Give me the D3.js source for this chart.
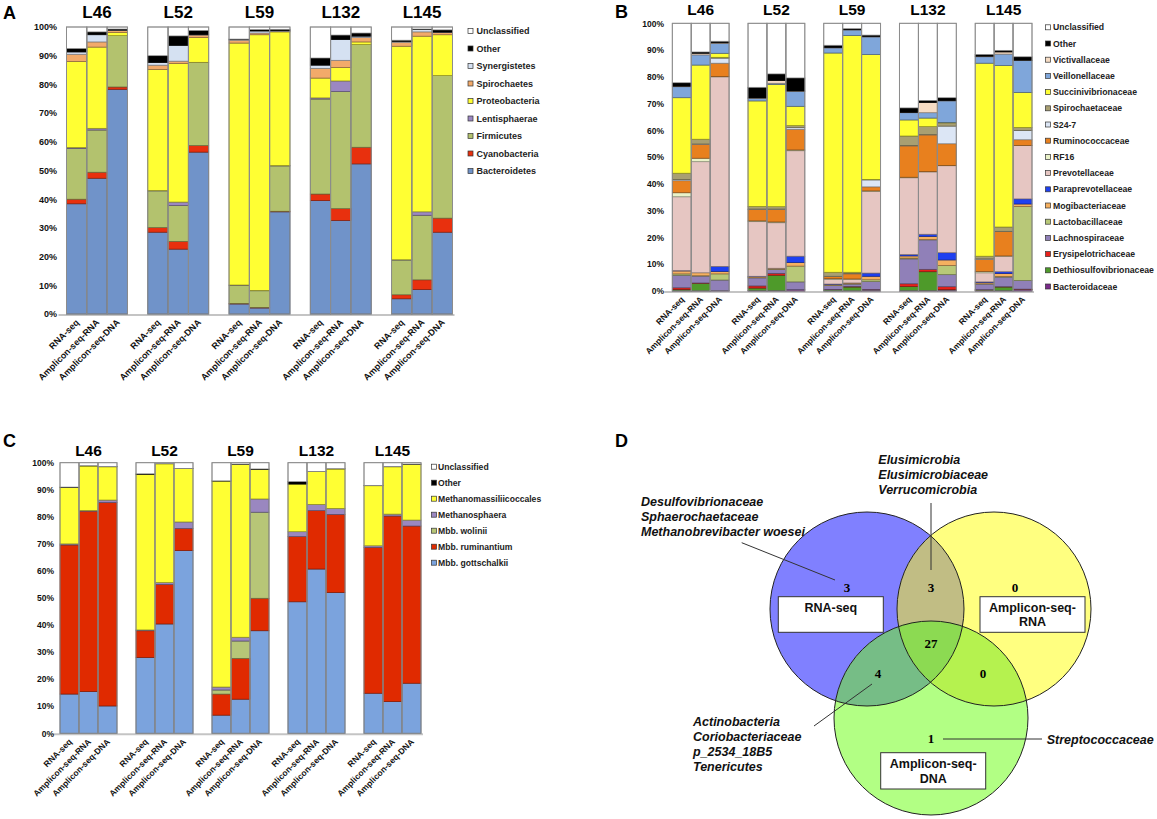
<!DOCTYPE html>
<html>
<head>
<meta charset="utf-8">
<title>Taxonomic composition by method</title>
<script src="https://cdnjs.cloudflare.com/ajax/libs/d3/7.8.5/d3.min.js"></script>
<style>
  body { margin: 0; background: #fff; }
  svg { display: block; font-family: Arial, "Liberation Sans", sans-serif; }
</style>
</head>
<body>
<div id="fig"></div>
<script>
const width = 1157, height = 819;

const libraries = ["L46", "L52", "L59", "L132", "L145"];
const methods = ["RNA-seq", "Amplicon-seq-RNA", "Amplicon-seq-DNA"];
const yTicks = [0, 10, 20, 30, 40, 50, 60, 70, 80, 90, 100];

// Panel A: phyla, bottom of the stack first
const phyla = ["Bacteroidetes", "Cyanobacteria", "Firmicutes", "Lentisphaerae", "Proteobacteria",
  "Spirochaetes", "Synergistetes", "Other", "Unclassified"];
const phylaColors = ["#7093c9", "#e8300e", "#b3c26e", "#9b87c2", "#ffff33", "#f2aa6a", "#d5e1f2", "#000000", "#ffffff"];
// one row per bar: L46 RNA, L46 Amp-RNA, L46 Amp-DNA, L52 ... (percent)
const phylaValues = [
  [38.4, 1.6, 17.7, 0.3, 30.0, 2.5, 0.8, 1.2, 7.5],
  [47.3, 2.1, 14.7, 0.6, 28.3, 1.8, 2.5, 1.0, 1.7],
  [78.3, 0.8, 17.9, 0.0, 1.1, 0.7, 0.1, 0.4, 0.7],
  [28.5, 1.6, 12.8, 0.1, 42.2, 1.5, 0.9, 2.4, 10.0],
  [22.6, 2.7, 12.5, 1.2, 48.3, 0.8, 5.5, 3.3, 3.1],
  [56.4, 2.3, 28.9, 0.1, 8.6, 0.9, 0.1, 1.5, 1.2],
  [3.5, 0.2, 6.3, 0.1, 84.3, 1.0, 0.3, 0.1, 4.2],
  [2.1, 0.2, 5.8, 0.1, 89.1, 0.6, 0.7, 0.5, 0.9],
  [35.6, 0.2, 15.8, 0.1, 46.6, 0.2, 0.2, 0.5, 0.8],
  [39.5, 2.3, 33.1, 0.4, 6.9, 3.4, 1.1, 2.5, 10.8],
  [32.6, 4.1, 40.8, 3.7, 4.7, 2.5, 7.2, 1.6, 2.8],
  [52.3, 5.8, 35.8, 0.0, 0.9, 1.5, 0.5, 1.1, 2.1],
  [5.3, 1.4, 12.1, 0.1, 74.4, 1.4, 0.3, 0.4, 4.6],
  [8.5, 3.4, 22.5, 1.2, 61.2, 1.5, 0.8, 0.2, 0.7],
  [28.5, 4.9, 49.7, 0.0, 14.2, 0.8, 0.1, 0.8, 1.0]
];

// Panel B: families
const families = ["Bacteroidaceae", "Dethiosulfovibrionaceae", "Erysipelotrichaceae", "Lachnospiraceae",
  "Lactobacillaceae", "Mogibacteriaceae", "Paraprevotellaceae", "Prevotellaceae", "RF16", "Ruminococcaceae",
  "S24-7", "Spirochaetaceae", "Succinivibrionaceae", "Veillonellaceae", "Victivallaceae", "Other", "Unclassified"];
const familyColors = ["#7a2a8a", "#4e9a2a", "#e8201a", "#9080b8", "#b8c878", "#f5b060", "#1e40f0", "#e6c6c2",
  "#eaf2c8", "#e8801e", "#dce6f5", "#a89f72", "#ffff33", "#7fa6da", "#f6dcc4", "#000000", "#ffffff"];
const familyValues = [
  [0.1, 0.5, 0.6, 4.7, 0.5, 1.1, 0.1, 27.6, 1.5, 4.5, 0.4, 2.4, 28.2, 4.1, 0.2, 1.3, 22.2],
  [0.1, 2.8, 0.1, 2.6, 0.1, 1.1, 0.0, 41.5, 1.3, 5.2, 0.1, 1.8, 27.7, 3.8, 0.6, 0.5, 10.7],
  [0.2, 0.0, 0.0, 3.9, 2.3, 0.9, 1.9, 70.8, 0.1, 5.0, 1.9, 0.3, 1.5, 3.7, 0.2, 0.6, 6.7],
  [0.2, 0.9, 0.8, 3.0, 0.1, 0.4, 0.1, 20.4, 0.3, 4.3, 0.1, 1.0, 39.4, 1.0, 0.1, 4.0, 23.9],
  [0.2, 5.7, 0.7, 1.5, 0.1, 0.3, 0.0, 17.0, 0.3, 4.7, 0.1, 0.9, 45.7, 0.4, 1.0, 2.5, 18.9],
  [0.5, 0.0, 0.0, 2.9, 5.9, 1.3, 2.4, 39.4, 0.3, 7.7, 0.6, 0.8, 7.2, 5.6, 0.1, 4.9, 20.4],
  [0.1, 0.4, 0.1, 1.5, 0.1, 0.3, 0.1, 1.8, 0.2, 0.8, 0.1, 1.5, 81.9, 1.9, 0.1, 0.9, 8.2],
  [0.1, 1.4, 0.2, 0.9, 0.1, 0.3, 0.0, 1.4, 0.1, 1.9, 0.1, 0.5, 88.4, 2.1, 0.1, 0.4, 2.0],
  [0.4, 0.1, 0.1, 2.9, 0.7, 1.3, 1.2, 30.5, 0.2, 1.5, 2.6, 0.2, 46.6, 6.6, 0.1, 0.6, 4.4],
  [0.2, 1.5, 1.0, 9.3, 0.3, 0.8, 0.5, 28.7, 0.2, 11.7, 0.1, 3.6, 6.0, 2.7, 0.1, 1.7, 31.6],
  [0.2, 7.0, 0.9, 11.0, 0.1, 1.2, 0.8, 23.3, 0.1, 13.7, 0.1, 3.0, 3.2, 2.0, 3.8, 0.8, 28.8],
  [0.4, 0.1, 1.1, 4.5, 3.4, 2.1, 2.7, 32.5, 0.1, 8.1, 6.6, 1.2, 0.2, 8.0, 0.1, 1.1, 27.8],
  [0.2, 0.2, 0.1, 2.1, 0.1, 0.5, 0.2, 3.4, 0.5, 4.5, 0.2, 1.0, 72.1, 2.4, 0.2, 0.7, 11.6],
  [0.2, 1.3, 0.1, 3.6, 0.2, 1.1, 0.7, 5.8, 0.1, 9.1, 0.1, 1.6, 60.3, 4.3, 0.8, 0.6, 10.1],
  [0.5, 0.1, 0.1, 3.2, 27.7, 0.9, 1.9, 19.9, 0.1, 2.1, 3.5, 1.1, 13.1, 11.9, 0.1, 1.3, 12.5]
];

// Panel C: methanogens
const archaea = ["Mbb. gottschalkii", "Mbb. ruminantium", "Mbb. wolinii", "Methanosphaera",
  "Methanomassiliicoccales", "Other", "Unclassified"];
const archaeaColors = ["#7ba3dd", "#e02a00", "#b7c677", "#9a87c0", "#ffff33", "#000000", "#ffffff"];
const archaeaValues = [
  [14.5, 55.1, 0.0, 0.4, 20.8, 0.2, 9.0],
  [15.4, 66.7, 0.0, 0.2, 16.5, 0.1, 1.1],
  [10.1, 75.2, 0.0, 0.9, 12.3, 0.1, 1.4],
  [28.0, 9.9, 0.0, 0.3, 57.5, 0.2, 4.1],
  [40.4, 14.6, 0.0, 0.7, 43.9, 0.1, 0.3],
  [67.5, 8.2, 0.0, 2.4, 19.7, 0.1, 2.1],
  [6.7, 7.8, 1.5, 1.1, 76.1, 0.1, 6.7],
  [12.6, 15.1, 6.4, 1.4, 63.9, 0.1, 0.5],
  [37.9, 12.0, 31.8, 4.9, 10.9, 0.2, 2.3],
  [48.6, 24.1, 0.0, 1.8, 17.6, 0.9, 7.0],
  [60.7, 21.6, 0.0, 2.3, 12.1, 0.1, 3.2],
  [52.0, 28.9, 0.0, 2.2, 14.6, 0.1, 2.2],
  [14.8, 53.9, 0.0, 0.6, 22.2, 0.1, 8.4],
  [11.7, 68.6, 0.0, 0.7, 17.5, 0.1, 1.4],
  [18.5, 58.1, 0.0, 2.2, 20.6, 0.1, 0.5]
];

// Panel D: shared taxa between methods
const vennSets = ["RNA-seq", "Amplicon-seq-RNA", "Amplicon-seq-DNA"];
const vennRegions = ["R", "RA", "A", "RAD", "RD", "AD", "D"];
const vennCounts = [3, 3, 0, 27, 4, 0, 1];

const svg = d3.select("#fig").append("svg")
  .attr("width", width)
  .attr("height", height);

function stackedPanel(p) {
  const g = svg.append("g");
  const xg = d3.scaleBand().domain(libraries).range(p.xRange).paddingInner(0.25);
  const xs = d3.scaleBand().domain(methods).range([0, xg.bandwidth()]);
  const y = d3.scaleLinear().domain([0, 100]).range(p.yRange);

  const bars = [];
  libraries.forEach((lib, i) => methods.forEach((m, j) =>
    bars.push({ lib: lib, method: m, v: p.values[i * 3 + j] })));
  const series = d3.stack().keys(d3.range(p.taxa.length)).value((d, k) => d.v[k])(bars);

  // baseline
  g.append("line")
    .attr("x1", p.xRange[0] - 8).attr("x2", p.xRange[1] + 2)
    .attr("y1", y(0) + 1).attr("y2", y(0) + 1)
    .attr("stroke", "#c4c4c4").attr("stroke-width", 2);

  g.selectAll(".layer").data(series).join("g")
      .attr("fill", (d, i) => p.colors[i])
      .attr("stroke", (d, i) => d3.color(p.colors[i]).darker(1.6))
    .selectAll("rect").data(d => d).join("rect")
      .attr("x", d => xg(d.data.lib) + xs(d.data.method))
      .attr("width", xs.bandwidth())
      .attr("y", d => y(d[1]))
      .attr("height", d => y(d[0]) - y(d[1]))
      .attr("stroke-width", 0.7);

  g.selectAll(".frame").data(bars).join("rect")
    .attr("fill", "none").attr("stroke", "#8c8c8c").attr("stroke-width", 1)
    .attr("x", d => xg(d.lib) + xs(d.method))
    .attr("width", xs.bandwidth())
    .attr("y", y(100)).attr("height", y(0) - y(100));

  // y axis labels
  const ax = g.append("g")
    .attr("transform", `translate(${p.tickX},0)`)
    .call(d3.axisLeft(y).tickValues(yTicks).tickFormat(d => d + "%").tickSize(0).tickPadding(0));
  ax.select(".domain").remove();
  ax.selectAll("text")
    .attr("font-family", "Arial, 'Liberation Sans', sans-serif")
    .attr("font-size", p.tickSize).attr("font-weight", "bold").attr("fill", "#111");

  // library titles
  g.selectAll(".title").data(libraries).join("text")
    .attr("x", d => xg(d) + xg.bandwidth() / 2)
    .attr("y", p.titleY)
    .attr("text-anchor", "middle")
    .attr("font-size", p.titleSize).attr("font-weight", "bold")
    .text(d => d);

  // rotated method labels
  g.selectAll(".xlab").data(bars).join("text")
    .attr("transform", d => `translate(${xg(d.lib) + xs(d.method) + xs.bandwidth() / 2 + 3},${y(0) + 9}) rotate(-45)`)
    .attr("text-anchor", "end")
    .attr("font-size", p.labelSize).attr("font-weight", "bold").attr("fill", "#111")
    .text(d => d.method);

  // legend, top entry is the top of the stack
  const leg = g.selectAll(".leg").data(p.taxa.slice().reverse()).join("g")
    .attr("transform", (d, i) => `translate(${p.legX},${p.legY + i * p.legDy})`);
  leg.append("rect")
    .attr("x", 0).attr("y", -2.5).attr("width", 5).attr("height", 5)
    .attr("fill", d => p.colors[p.taxa.indexOf(d)])
    .attr("stroke", "#333").attr("stroke-width", 0.7);
  leg.append("text")
    .attr("x", p.legTextDx).attr("y", 0).attr("dy", "0.35em")
    .attr("font-size", p.legSize).attr("font-weight", "bold").attr("fill", "#222")
    .text(d => d);

  svg.append("text")
    .attr("x", p.letterX).attr("y", p.letterY)
    .attr("font-size", 18).attr("font-weight", "bold")
    .text(p.letter);
}

stackedPanel({
  letter: "A", letterX: 3, letterY: 19,
  taxa: phyla, colors: phylaColors, values: phylaValues,
  xRange: [66.5, 452.5], yRange: [314, 27],
  tickX: 57, tickSize: 9, titleY: 18, titleSize: 17, labelSize: 9,
  legX: 468, legY: 31, legDy: 17.5, legTextDx: 8.5, legSize: 9
});

stackedPanel({
  letter: "B", letterX: 615, letterY: 18,
  taxa: families, colors: familyColors, values: familyValues,
  xRange: [672.3, 1032], yRange: [291, 23.3],
  tickX: 664, tickSize: 8.5, titleY: 15, titleSize: 15.5, labelSize: 8.5,
  legX: 1045.5, legY: 27.3, legDy: 16.2, legTextDx: 7.5, legSize: 8.7
});

stackedPanel({
  letter: "C", letterX: 3, letterY: 447,
  taxa: archaea, colors: archaeaColors, values: archaeaValues,
  xRange: [60, 421], yRange: [733.3, 462.7],
  tickX: 54, tickSize: 8.5, titleY: 456, titleSize: 15.5, labelSize: 8.5,
  legX: 431.5, legY: 466.7, legDy: 16, legTextDx: 6.5, legSize: 8.6
});

// ---- Panel D: Venn diagram ----
svg.append("text")
  .attr("x", 615).attr("y", 447)
  .attr("font-size", 18).attr("font-weight", "bold")
  .text("D");

const circles = [
  { name: vennSets[0], cx: 867, cy: 609, r: 97, fill: "#8080ff" },
  { name: vennSets[1], cx: 994, cy: 609, r: 97, fill: "#ffff80" },
  { name: vennSets[2], cx: 931, cy: 718, r: 97, fill: "#b2ff84" }
];
const vg = svg.append("g");
const defs = svg.append("defs");
circles.forEach((c, i) => {
  defs.append("clipPath").attr("id", "clip" + i)
    .append("circle").attr("cx", c.cx).attr("cy", c.cy).attr("r", c.r);
});
// clip for blue∩yellow
defs.append("clipPath").attr("id", "clip01")
  .attr("clip-path", "url(#clip0)")
  .append("circle").attr("cx", circles[1].cx).attr("cy", circles[1].cy).attr("r", circles[1].r);

vg.selectAll(".set").data(circles).join("circle")
  .attr("cx", d => d.cx).attr("cy", d => d.cy).attr("r", d => d.r)
  .attr("fill", d => d.fill);

const overlaps = [
  { clip: "clip0", c: circles[1], fill: "#c1bd84" },
  { clip: "clip0", c: circles[2], fill: "#76bd86" },
  { clip: "clip1", c: circles[2], fill: "#b5f24f" },
  { clip: "clip01", c: circles[2], fill: "#8cda52" }
];
vg.selectAll(".ov").data(overlaps).join("circle")
  .attr("clip-path", d => `url(#${d.clip})`)
  .attr("cx", d => d.c.cx).attr("cy", d => d.c.cy).attr("r", d => d.c.r)
  .attr("fill", d => d.fill);

vg.selectAll(".edge").data(circles).join("circle")
  .attr("cx", d => d.cx).attr("cy", d => d.cy).attr("r", d => d.r)
  .attr("fill", "none").attr("stroke", "#222").attr("stroke-width", 1);

// leader lines
const leaders = [
  [741.7, 542.7, 835, 580],
  [931, 503, 931, 570],
  [814, 726, 872, 684],
  [943, 739, 1042, 739]
];
vg.selectAll(".lead").data(leaders).join("line")
  .attr("x1", d => d[0]).attr("y1", d => d[1]).attr("x2", d => d[2]).attr("y2", d => d[3])
  .attr("stroke", "#333").attr("stroke-width", 1);

// region counts
const countPos = { R: [847, 592], RA: [931, 592], A: [1015, 592], RAD: [931, 648], RD: [878, 678], AD: [983, 678], D: [931, 743] };
vg.selectAll(".cnt").data(vennRegions).join("text")
  .attr("x", d => countPos[d][0]).attr("y", d => countPos[d][1])
  .attr("text-anchor", "middle")
  .attr("font-family", "'Times New Roman', 'Liberation Serif', serif")
  .attr("font-weight", "bold").attr("font-size", 13)
  .text((d, i) => vennCounts[i]);

// set name boxes
const boxes = [
  { x: 778.3, y: 596.7, w: 105, h: 35.6, lines: ["RNA-seq"], ty: [612] },
  { x: 980, y: 596.7, w: 105, h: 35.6, lines: ["Amplicon-seq-", "RNA"], ty: [612, 626] },
  { x: 880.7, y: 752.7, w: 105, h: 36.3, lines: ["Amplicon-seq-", "DNA"], ty: [768, 783] }
];
const bx = vg.selectAll(".box").data(boxes).join("g");
bx.append("rect")
  .attr("x", d => d.x).attr("y", d => d.y).attr("width", d => d.w).attr("height", d => d.h)
  .attr("fill", "#fff").attr("stroke", "#333").attr("stroke-width", 1);
bx.each(function (d) {
  d3.select(this).selectAll("text").data(d.lines).join("text")
    .attr("x", d.x + d.w / 2).attr("y", (t, i) => d.ty[i])
    .attr("text-anchor", "middle")
    .attr("font-size", 12.5).attr("font-weight", "bold").attr("fill", "#111")
    .text(t => t);
});

// taxa annotations
const notes = [
  { x: 641, y: 505.5, lines: ["Desulfovibrionaceae", "Sphaerochaetaceae", "Methanobrevibacter woesei"] },
  { x: 878.3, y: 464, lines: ["Elusimicrobia", "Elusimicrobiaceae", "Verrucomicrobia"] },
  { x: 693, y: 726, lines: ["Actinobacteria", "Coriobacteriaceae", "p_2534_18B5", "Tenericutes"] },
  { x: 1046.7, y: 743.5, lines: ["Streptococcaceae"] }
];
notes.forEach(n => {
  vg.append("g").selectAll("text").data(n.lines).join("text")
    .attr("x", n.x).attr("y", (t, i) => n.y + i * 15)
    .attr("font-size", 12.5).attr("font-weight", "bold").attr("font-style", "italic").attr("fill", "#111")
    .text(t => t);
});
</script>
</body>
</html>
